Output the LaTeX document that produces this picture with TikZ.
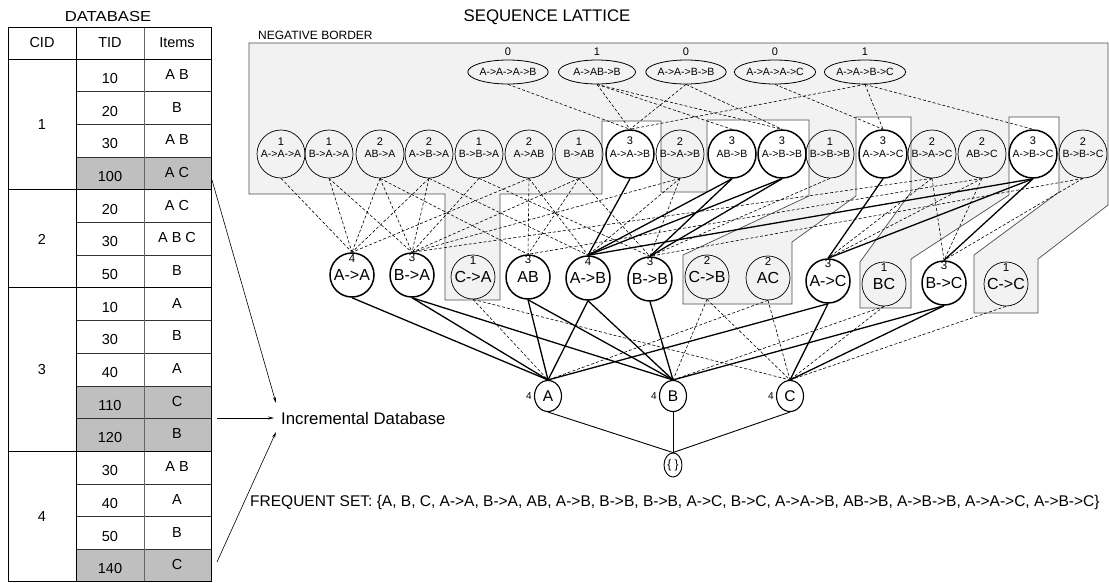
\documentclass[tikz,border=0pt]{standalone}
\usepackage{graphicx}
\usepackage{fontspec}
\setmainfont{Liberation Sans}
\usetikzlibrary{shapes.geometric,arrows.meta}
\newcommand{\fs}[1]{\fontsize{#1}{#1}\selectfont}
\begin{document}
\begin{tikzpicture}[x=1pt,y=-1pt,
  every node/.style={inner sep=0pt},
  tabtxt/.style={font=\fs{14.5}},
  cellgray/.style={fill=black!25},
  region/.style={fill=black!5, draw=black!70, line width=0.7pt},
  c4/.style={ellipse, draw, line width=0.8pt, minimum width=77pt, minimum height=24pt, font=\fs{10.5}},
  c3/.style={circle, draw, line width=0.7pt, minimum size=48pt, font=\fs{10.5}},
  c3f/.style={c3, line width=1.5pt},
  c2/.style={circle, draw, line width=0.7pt, minimum size=44pt, font=\fs{16}},
  c2f/.style={c2, line width=1.5pt},
  c1/.style={ellipse, draw, line width=1.1pt, minimum width=27pt, minimum height=31pt, font=\fs{15.5}},
  cnt4/.style={font=\fs{11}, label distance=4pt},
  cnt3/.style={font=\fs{11}, label distance=-16pt},
  cnt2/.style={font=\fs{11.5}, label distance=-10pt},
  cnt1/.style={font=\fs{10}, label distance=2pt},
  dedge/.style={line width=0.6pt, dash pattern=on 3pt off 2pt},
  bedge/.style={line width=1.3pt},
  sedge/.style={line width=0.9pt},
  arr/.style={line width=0.6pt, -{Stealth[length=6pt,width=3pt]}}
]
\useasboundingbox (0,0) rectangle (1109,582);

% ---------------- database table ----------------
\fill[cellgray] (76,157.1) rectangle (211,189.8);
\fill[cellgray] (76,385.9) rectangle (211,451.3);
\fill[cellgray] (76,549.4) rectangle (211,582);
\foreach \yy in {91.7,124.4,157.1,222.4,255.1,320.5,353.2,385.9,418.6,484.0,516.7,549.4}
  \draw[line width=0.6pt, black!80] (76,\yy) -- (211,\yy);
\draw[line width=0.6pt, black!60] (144,27) -- (144,582);
\draw[line width=1pt] (76,27) -- (76,582);
\foreach \yy in {59,189.8,287.8,451.3}
  \draw[line width=1pt] (8,\yy) -- (211,\yy);
\draw[line width=1pt] (8,27) rectangle (211,581.5);

\node[tabtxt] (dbt) at (108,17) {\scalebox{1.15}[1]{DATABASE}};
\node[tabtxt] (hcid) at (42,43) {CID};
\node[tabtxt] (htid) at (110,43) {TID};
\node[tabtxt] (hitm) at (177,43) {Items};
\node[tabtxt] (cid1) at (42,124.5) {1};
\node[tabtxt] (cid2) at (42,239) {2};
\node[tabtxt] (cid3) at (42,369.5) {3};
\node[tabtxt] (cid4) at (42,516.5) {4};
\foreach \t/\itm [count=\i from 0] in {10/A B,20/B,30/A B,100/A C,20/A C,30/A B C,50/B,10/A,30/B,40/A,110/C,120/B,30/A B,40/A,50/B,140/C}{
  \node[tabtxt] (tid\i) at (110,{59+32.69*(\i+0.5)+3}) {\t};
  \node[tabtxt] (itm\i) at (177,{59+32.69*(\i+0.5)-1}) {\itm};
}

% ---------------- incremental part ----------------
\node[font=\fs{16.8}, anchor=west] (inc) at (281,418) {Incremental Database};
\coordinate (s1) at (212,180);
\coordinate (s2) at (217,418);
\coordinate (s3) at (217,562);
\coordinate (e1) at (276,403);
\coordinate (e2) at (274,418);
\coordinate (e3) at (276,432);
\draw[arr] (s1) -- (e1);
\draw[arr] (s2) -- (e2);
\draw[arr] (s3) -- (e3);

% ---------------- negative border region ----------------
\node[font=\fs{16.8}] (title) at (547,17) {SEQUENCE LATTICE};
\draw[region] (249,43) -- (1108,43) -- (1108,205) -- (1038,259) -- (1038,313)
  -- (974,313) -- (974,255) -- (1059,192) -- (1059,117) -- (1009,117)
  -- (1009,195) -- (911,259) -- (911,308) -- (860,308) -- (860,262)
  -- (911,192) -- (911,117) -- (856,117) -- (856,196) -- (792,242)
  -- (792,304) -- (683,304) -- (683,255) -- (809,196) -- (809,120)
  -- (707,120) -- (707,192) -- (661,192) -- (661,121) -- (602,121)
  -- (602,194) -- (500,194) -- (500,300) -- (445,300) -- (445,194)
  -- (249,194) -- cycle;
\node[font=\fs{12}, anchor=west] (nb) at (258,35) {NEGATIVE BORDER};

% ---------------- level 4 ----------------
\node[c4, label={[cnt4]90:0}] (q1) at (508,72) {A->A->A->B};
\node[c4, label={[cnt4]90:1}] (q2) at (597,72) {A->AB->B};
\node[c4, label={[cnt4]90:0}] (q3) at (686,72) {A->A->B->B};
\node[c4, label={[cnt4]90:0}] (q4) at (775,72) {A->A->A->C};
\node[c4, label={[cnt4]90:1}] (q5) at (865,72) {A->A->B->C};

% ---------------- level 3 ----------------
\foreach \n/\xx/\cc/\tt/\st in {
  t1/281/1/A->A->A/c3, t2/329/1/B->A->A/c3, t3/380/2/AB->A/c3,
  t4/429/2/A->B->A/c3, t5/479/1/B->B->A/c3, t6/529/2/A->AB/c3,
  t7/579/1/B->AB/c3, t8/630/3/A->A->B/c3f, t9/680/2/B->A->B/c3,
  t10/732/3/AB->B/c3f, t11/782/3/A->B->B/c3f, t12/830/1/B->B->B/c3,
  t13/883/3/A->A->C/c3f, t14/932/2/B->A->C/c3, t15/982/2/AB->C/c3,
  t16/1033/3/A->B->C/c3f, t17/1083/2/B->B->C/c3}
  \node[\st, label={[cnt3]90:\cc}] (\n) at (\xx,154) {\tt};

% ---------------- level 2 ----------------
\node[c2f, label={[cnt2]90:4}] (aa)  at (352,275) {A->A};
\node[c2f, label={[cnt2]90:3}] (ba)  at (412,275) {B->A};
\node[c2,  label={[cnt2]90:1}] (ca)  at (473,277) {C->A};
\node[c2f, label={[cnt2]90:3}] (ab)  at (528,277) {AB};
\node[c2f, label={[cnt2]90:4}] (atb) at (588,278) {A->B};
\node[c2f, label={[cnt2]90:3}] (bb)  at (650,279) {B->B};
\node[c2,  label={[cnt2]90:2}] (cb)  at (707,277) {C->B};
\node[c2,  label={[cnt2]90:2}] (ac)  at (768,278) {AC};
\node[c2f, label={[cnt2]90:3}] (atc) at (828,281) {A->C};
\node[c2,  label={[cnt2]90:1}] (bc)  at (884,284) {BC};
\node[c2f, label={[cnt2]90:3}] (btc) at (944,283) {B->C};
\node[c2,  label={[cnt2]90:1}] (cc)  at (1006,284) {C->C};

% ---------------- level 1 and root ----------------
\node[c1, label={[cnt1]180:4}] (nA) at (548,396) {A};
\node[c1, label={[cnt1]180:4}] (nB) at (673,396) {B};
\node[c1, label={[cnt1]180:4}] (nC) at (790,396) {C};
\node[ellipse, draw, line width=0.9pt, minimum width=18pt, minimum height=24pt, font=\fs{12}] (root) at (673,465) {\{ \}};

% ---------------- connectors ----------------
\foreach \a/\b in {q1/t8, q2/t8, q2/t10, q2/t11, q3/t8, q3/t11, q4/t13, q5/t8, q5/t13, q5/t16}
  \draw[dedge] (\a.south) -- (\b.north);
\foreach \a/\b in {t1/aa, t2/aa, t2/ba, t3/ba, t3/aa, t3/ab, t4/ba, t4/aa, t4/atb,
  t5/ba, t5/bb, t6/ab, t6/atb, t6/aa, t7/ab, t7/bb, t7/ba, t9/atb, t9/bb, t9/ba,
  t12/bb, t14/atc, t14/btc, t14/ba, t15/btc, t15/atc, t15/ab, t17/btc, t17/bb}
  \draw[dedge] (\a.south) -- (\b.north);
\foreach \a/\b in {t8/atb, t10/atb, t10/bb, t11/atb, t11/bb, t13/atc, t16/atb, t16/atc, t16/btc}
  \draw[bedge] (\a.south) -- (\b.north);
\foreach \a/\b in {aa/nA, ba/nB, ba/nA, ab/nA, ab/nB, atb/nA, atb/nB, bb/nB, atc/nA, atc/nC, btc/nB, btc/nC}
  \draw[bedge] (\a.south) -- (\b.north);
\foreach \a/\b in {ca/nC, ca/nA, cb/nC, cb/nB, ac/nA, ac/nC, bc/nB, bc/nC, cc/nC}
  \draw[dedge] (\a.south) -- (\b.north);
\foreach \b in {nA, nB, nC}
  \draw[sedge] (root.north) -- (\b.south);

\node[font=\fs{15.5}, anchor=west] (freq) at (250,502) {FREQUENT SET: \{A, B, C, A->A, B->A, AB, A->B, B->B, B->B, A->C, B->C, A->A->B, AB->B, A->B->B, A->A->C, A->B->C\}};
\end{tikzpicture}
\end{document}
